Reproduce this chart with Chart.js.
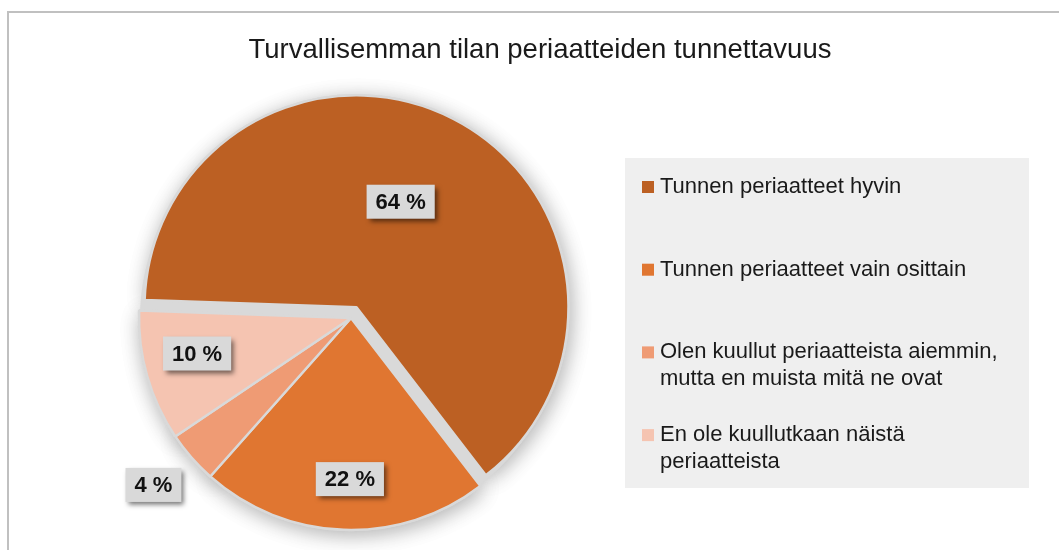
<!DOCTYPE html>
<html lang="fi">
<head>
    <meta charset="UTF-8">
    <title>Turvallisemman tilan periaatteiden tunnettavuus</title>
    <style>
        html, body {
            margin: 0;
            padding: 0;
            background-color: white;
        }
        .chart-container {
            width: 1059px;
            height: 550px;
        }
    </style>
</head>
<body>
    <div class="chart-container">
        <canvas id="pieChart" width="1059" height="550"></canvas>
    </div>

    <script src="https://cdn.jsdelivr.net/npm/chart.js"></script>
    <script>
        // Data
        const chartTitle = 'Turvallisemman tilan periaatteiden tunnettavuus';
        const categories = [
            'Tunnen periaatteet hyvin',
            'Tunnen periaatteet vain osittain',
            'Olen kuullut periaatteista aiemmin, mutta en muista mitä ne ovat',
            'En ole kuullutkaan näistä periaatteista'
        ];
        const shares = [64, 22, 4, 10];
        const sliceColors = ['#bc6023', '#e07631', '#ef9b74', '#f5c4b1'];

        // exploded slice distance in px (Chart.js' own offset also grows the radius, so do it by hand)
        const explodePx = [12, 0, 0, 0];

        // where each value label sits: fraction of radius and angle nudge (deg)
        const labelSpots = [
            { r: 0.54, da: -4.5 },
            { r: 0.76, da: -1.6 },
            { r: 1.22, da: 1 },
            { r: 0.745, da: 3 }
        ];

        const FONT = '"Liberation Sans", Arial, sans-serif';
        const GAP_GREY = '#d9d9d9';

        // frame + title + legend box
        const framePlugin = {
            id: 'frame',
            beforeDraw(chart) {
                const ctx = chart.ctx;
                ctx.save();
                ctx.fillStyle = '#ffffff';
                ctx.fillRect(0, 0, chart.width, chart.height);
                ctx.strokeStyle = '#c0c0c0';
                ctx.lineWidth = 2;
                ctx.strokeRect(8, 12, chart.width + 20, chart.height + 20);

                ctx.fillStyle = '#1a1a1a';
                ctx.font = '27.5px ' + FONT;
                ctx.textAlign = 'center';
                ctx.textBaseline = 'alphabetic';
                ctx.fillText(chartTitle, 540, 58);
                ctx.restore();
            },
            afterDraw(chart) {
                const ctx = chart.ctx;
                ctx.save();
                ctx.fillStyle = '#efefef';
                ctx.fillRect(625, 158, 404, 330);

                ctx.font = '22px ' + FONT;
                ctx.textAlign = 'left';
                ctx.textBaseline = 'middle';
                categories.forEach((label, i) => {
                    const y0 = 187 + i * 82.7;
                    ctx.fillStyle = sliceColors[i];
                    ctx.fillRect(642, y0 - 6, 12, 12);
                    ctx.fillStyle = '#1a1a1a';
                    // wrap text
                    const words = label.split(' ');
                    const lines = [];
                    let line = '';
                    words.forEach(w => {
                        const test = line ? line + ' ' + w : w;
                        if (ctx.measureText(test).width > 360 && line) {
                            lines.push(line);
                            line = w;
                        } else {
                            line = test;
                        }
                    });
                    lines.push(line);
                    lines.forEach((l, k) => ctx.fillText(l, 660, y0 + k * 26.5));
                });
                ctx.restore();
            }
        };

        // explode slices + soft shadow + grey gaps under them
        const shadowPlugin = {
            id: 'pieShadow',
            beforeDatasetsDraw(chart) {
                const ctx = chart.ctx;
                const meta = chart.getDatasetMeta(0);
                meta.data.forEach((arc, i) => {
                    if (!arc._exploded && explodePx[i]) {
                        const orig = arc.draw.bind(arc);
                        arc.draw = function (c) {
                            const mid = (this.startAngle + this.endAngle) / 2;
                            c.save();
                            c.translate(Math.cos(mid) * explodePx[i], Math.sin(mid) * explodePx[i]);
                            orig(c);
                            c.restore();
                        };
                        arc._exploded = true;
                    }
                });
                ctx.save();
                ctx.shadowColor = 'rgba(0, 0, 0, 0.3)';
                ctx.shadowBlur = 20;
                ctx.shadowOffsetX = 2;
                ctx.shadowOffsetY = 4;
                meta.data.forEach(arc => arc.draw(ctx));
                ctx.restore();

                // grey disc at the un-exploded position shows through the gaps
                const p = meta.data[0].getProps(['x', 'y', 'outerRadius'], true);
                ctx.save();
                ctx.fillStyle = GAP_GREY;
                ctx.beginPath();
                ctx.arc(p.x, p.y, p.outerRadius - 1, 0, Math.PI * 2);
                ctx.fill();
                ctx.restore();
            }
        };

        // grey value boxes
        const valueLabels = {
            id: 'valueLabels',
            afterDatasetsDraw(chart) {
                const ctx = chart.ctx;
                const meta = chart.getDatasetMeta(0);
                ctx.save();
                ctx.font = 'bold 22px ' + FONT;
                ctx.textAlign = 'center';
                ctx.textBaseline = 'middle';
                meta.data.forEach((arc, i) => {
                    const p = arc.getProps(['x', 'y', 'startAngle', 'endAngle', 'outerRadius'], true);
                    const mid = (p.startAngle + p.endAngle) / 2;
                    const off = explodePx[i];
                    const cx = p.x + Math.cos(mid) * off;
                    const cy = p.y + Math.sin(mid) * off;
                    const a = mid + labelSpots[i].da * Math.PI / 180;
                    const x = cx + Math.cos(a) * labelSpots[i].r * p.outerRadius;
                    const y = cy + Math.sin(a) * labelSpots[i].r * p.outerRadius;
                    const text = shares[i] + ' %';
                    const w = ctx.measureText(text).width + 18;
                    const h = 34;
                    ctx.save();
                    ctx.shadowColor = 'rgba(0, 0, 0, 0.55)';
                    ctx.shadowBlur = 5;
                    ctx.shadowOffsetX = 3;
                    ctx.shadowOffsetY = 3;
                    ctx.fillStyle = '#d9d9d9';
                    ctx.fillRect(x - w / 2, y - h / 2, w, h);
                    ctx.restore();
                    ctx.fillStyle = '#111111';
                    ctx.fillText(text, x, y + 1);
                });
                ctx.restore();
            }
        };

        const ctx = document.getElementById('pieChart').getContext('2d');
        const pieChart = new Chart(ctx, {
            type: 'pie',
            data: {
                labels: categories,
                datasets: [{
                    data: shares,
                    backgroundColor: sliceColors,
                    borderColor: GAP_GREY,
                    borderWidth: 2.5,
                    hoverOffset: 0,
                    radius: 212,
                    clip: false
                }]
            },
            options: {
                responsive: false,
                animation: false,
                events: [],
                rotation: 272,
                layout: {
                    padding: { left: 139, right: 496, top: 106, bottom: 20 }
                },
                plugins: {
                    legend: { display: false },
                    title: { display: false },
                    tooltip: { enabled: false }
                }
            },
            plugins: [framePlugin, shadowPlugin, valueLabels]
        });
    </script>
</body>
</html>
